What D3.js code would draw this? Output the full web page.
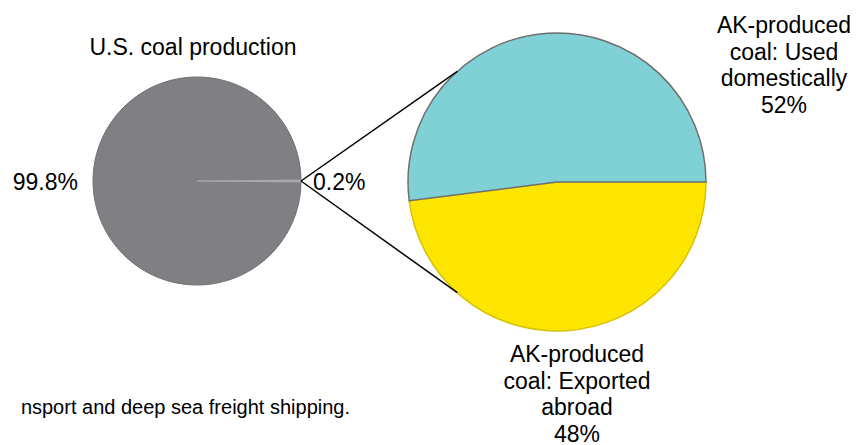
<!DOCTYPE html>
<html><head><meta charset="utf-8">
<script src="https://cdn.jsdelivr.net/npm/d3@7"></script>
<style>html,body{margin:0;padding:0;background:#fff;overflow:hidden}svg{display:block}</style>
</head><body>
<svg id="c" width="866" height="445"></svg>
<script>
// Data
const usCategories = ["Other U.S. coal", "AK-produced coal"];
const usValues = [99.8, 0.2];
const usLabels = ["99.8%", "0.2%"];
const akCategories = ["AK-produced coal: Exported abroad", "AK-produced coal: Used domestically"];
const akValues = [48, 52];
const akLabels = [["AK-produced", "coal: Exported", "abroad", "48%"], ["AK-produced", "coal: Used", "domestically", "52%"]];
const titleText = "U.S. coal production";
const footnoteText = "nsport and deep sea freight shipping.";

const svg = d3.select("#c");
const font = "Liberation Sans, Arial, sans-serif";

const L = {cx: 197, cy: 181, r: 104};
const R = {cx: 557, cy: 182, r: 149};

const smallFrac = usValues[1] / d3.sum(usValues);
const pieL = d3.pie().sort(null).startAngle(Math.PI/2 - smallFrac*Math.PI).endAngle(Math.PI/2 - smallFrac*Math.PI + 2*Math.PI);
const lData = pieL([usValues[1], usValues[0]]);
const arcL = d3.arc().innerRadius(0).outerRadius(L.r);
const gL = svg.append("g").attr("transform", `translate(${L.cx},${L.cy})`);
gL.append("path").attr("d", arcL(lData[1])).attr("fill", "#807f83").attr("stroke", "#6f6f72").attr("stroke-width", 1);
gL.append("path").attr("d", arcL(lData[0])).attr("fill", "#a9a9a9").attr("stroke", "#a9a9a9").attr("stroke-width", 1.5);

const pieR = d3.pie().sort(null).startAngle(Math.PI/2).endAngle(Math.PI/2 + 2*Math.PI);
const rData = pieR(akValues);
const arcR = d3.arc().innerRadius(0).outerRadius(R.r);
const gR = svg.append("g").attr("transform", `translate(${R.cx},${R.cy})`);
const akFill = ["#fee500", "#80d1d5"];
const akStroke = ["#d6c200", "#6f6f6f"];
gR.selectAll("path").data(rData).join("path")
  .attr("d", arcR).attr("fill", (d,i)=>akFill[i]).attr("stroke", (d,i)=>akStroke[i]).attr("stroke-width", 1.5);

const startX = L.cx + L.r, startY = L.cy;
const connAng = 132 * Math.PI/180;
[-1, 1].forEach(s => {
  const ex = R.cx + R.r * Math.cos(connAng);
  const ey = R.cy + s * R.r * Math.sin(connAng);
  svg.append("line").attr("x1", startX).attr("y1", startY).attr("x2", ex).attr("y2", ey)
    .attr("stroke", "#000").attr("stroke-width", 1.5);
});

svg.append("text").attr("x", 193).attr("y", 55).attr("text-anchor", "middle")
  .attr("font-family", font).attr("font-size", 23).attr("fill", "#000").text(titleText);

svg.append("text").attr("x", 78).attr("y", 190).attr("text-anchor", "end")
  .attr("font-family", font).attr("font-size", 23).text(usLabels[0]);
svg.append("text").attr("x", 313).attr("y", 190).attr("text-anchor", "start")
  .attr("font-family", font).attr("font-size", 23).text(usLabels[1]);

const labelPos = [{x: 577, y: 362}, {x: 784, y: 33}];
akLabels.forEach((lines, i) => {
  const t = svg.append("text").attr("text-anchor", "middle").attr("font-family", font).attr("font-size", 23);
  lines.forEach((ln, j) => {
    t.append("tspan").attr("x", labelPos[i].x).attr("y", labelPos[i].y + j*26.5).text(ln);
  });
});

svg.append("text").attr("x", 350).attr("y", 414).attr("text-anchor", "end")
  .attr("font-family", font).attr("font-size", 20).text(footnoteText);
</script>
</body></html>
